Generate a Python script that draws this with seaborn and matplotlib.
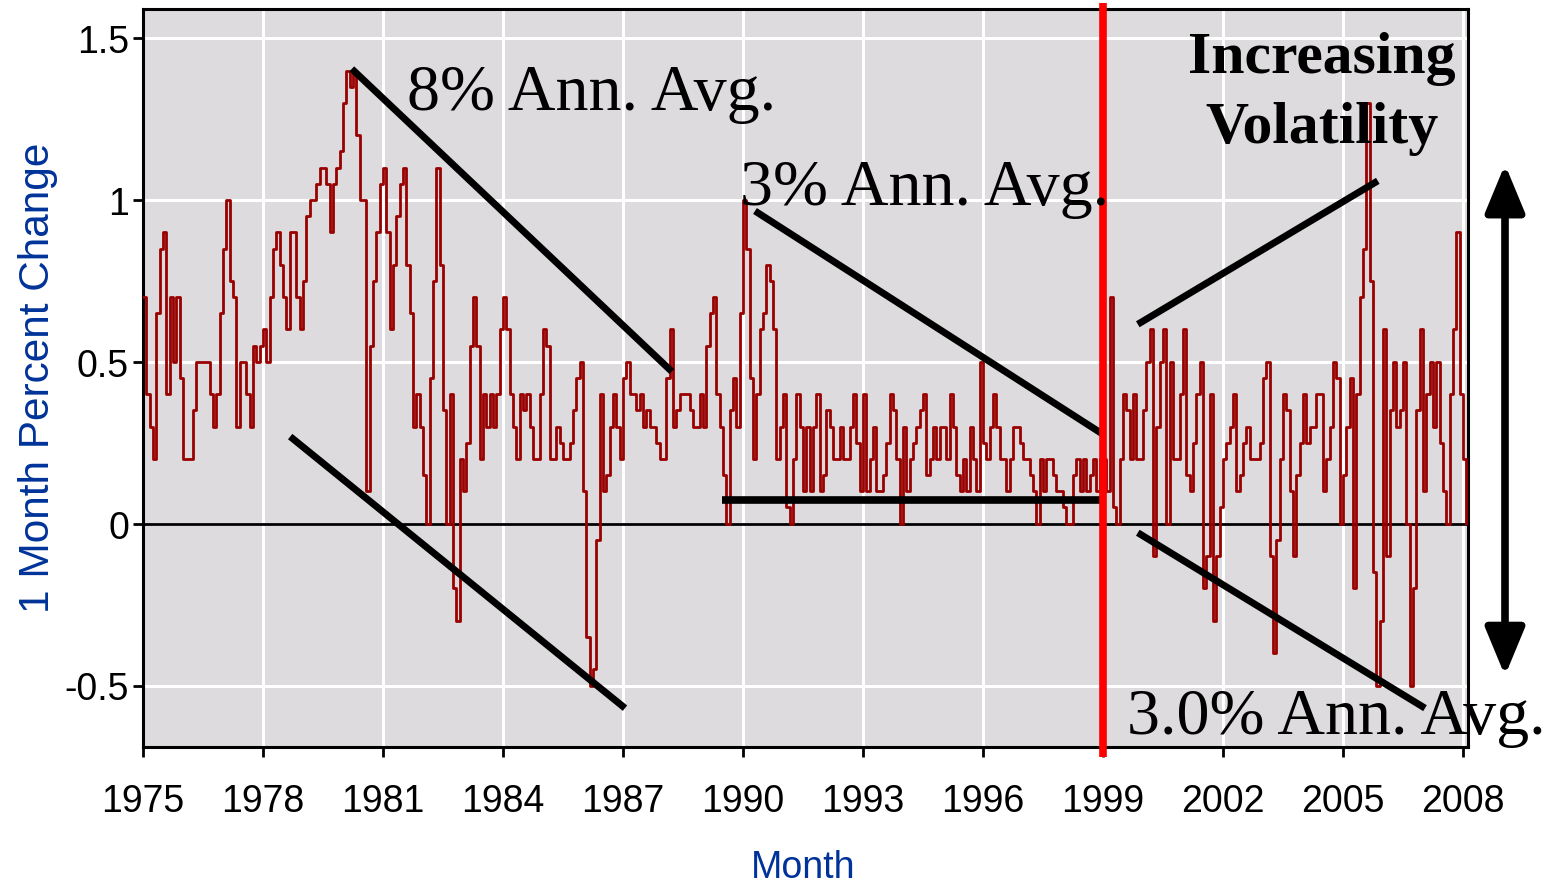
import pandas as pd
import matplotlib
matplotlib.use('Agg')
import matplotlib.pyplot as plt
from matplotlib.ticker import FuncFormatter
import seaborn as sns

# monthly percent change (Jan 1975 .. Feb 2008)
y1975 = [0.7, 0.4, 0.3, 0.2, 0.65, 0.85, 0.9, 0.4, 0.7, 0.5, 0.7, 0.45]
y1976 = [0.2, 0.2, 0.2, 0.35, 0.5, 0.5, 0.5, 0.5, 0.4, 0.3, 0.4, 0.65]
y1977 = [0.85, 1.0, 0.75, 0.7, 0.3, 0.5, 0.5, 0.4, 0.3, 0.55, 0.5, 0.55]
y1978 = [0.6, 0.5, 0.7, 0.85, 0.9, 0.8, 0.7, 0.6, 0.9, 0.9, 0.7, 0.6]
y1979 = [0.75, 0.95, 1.0, 1.0, 1.05, 1.1, 1.1, 1.05, 0.9, 1.05, 1.1, 1.15]
y1980 = [1.3, 1.4, 1.35, 1.4, 1.2, 1.0, 1.0, 0.1, 0.55, 0.75, 0.9, 1.05]
y1981 = [1.1, 0.9, 0.6, 0.8, 0.95, 1.05, 1.1, 0.8, 0.65, 0.3, 0.4, 0.3]
y1982 = [0.15, 0.0, 0.45, 0.75, 1.1, 0.8, 0.35, 0.0, 0.4, -0.2, -0.3, 0.2]
y1983 = [0.1, 0.25, 0.55, 0.7, 0.55, 0.2, 0.4, 0.3, 0.4, 0.3, 0.4, 0.6]
y1984 = [0.7, 0.6, 0.4, 0.3, 0.2, 0.4, 0.35, 0.4, 0.3, 0.2, 0.2, 0.4]
y1985 = [0.6, 0.55, 0.2, 0.2, 0.3, 0.25, 0.2, 0.2, 0.25, 0.35, 0.45, 0.5]
y1986 = [0.1, -0.35, -0.5, -0.45, -0.05, 0.4, 0.1, 0.15, 0.3, 0.4, 0.3, 0.2]
y1987 = [0.45, 0.5, 0.4, 0.4, 0.35, 0.4, 0.3, 0.35, 0.3, 0.3, 0.25, 0.2]
y1988 = [0.2, 0.45, 0.6, 0.3, 0.35, 0.4, 0.4, 0.4, 0.35, 0.3, 0.3, 0.4]
y1989 = [0.3, 0.55, 0.65, 0.7, 0.4, 0.3, 0.15, 0.0, 0.35, 0.45, 0.3, 0.65]
y1990 = [1.0, 0.85, 0.45, 0.2, 0.4, 0.6, 0.65, 0.8, 0.75, 0.6, 0.2, 0.3]
y1991 = [0.4, 0.05, 0.0, 0.2, 0.4, 0.3, 0.1, 0.3, 0.1, 0.3, 0.4, 0.1]
y1992 = [0.15, 0.35, 0.3, 0.2, 0.2, 0.3, 0.2, 0.2, 0.3, 0.4, 0.25, 0.1]
y1993 = [0.4, 0.1, 0.2, 0.3, 0.1, 0.1, 0.15, 0.25, 0.4, 0.35, 0.2, 0.0]
y1994 = [0.3, 0.1, 0.2, 0.25, 0.3, 0.35, 0.4, 0.15, 0.2, 0.3, 0.2, 0.3]
y1995 = [0.3, 0.2, 0.4, 0.3, 0.15, 0.1, 0.2, 0.1, 0.3, 0.2, 0.1, 0.5]
y1996 = [0.25, 0.2, 0.3, 0.4, 0.3, 0.2, 0.2, 0.1, 0.2, 0.3, 0.3, 0.25]
y1997 = [0.2, 0.2, 0.15, 0.1, 0.0, 0.2, 0.1, 0.2, 0.2, 0.15, 0.1, 0.1]
y1998 = [0.05, 0.0, 0.0, 0.15, 0.2, 0.1, 0.2, 0.1, 0.15, 0.2, 0.1, 0.2]
y1999 = [0.2, 0.1, 0.7, 0.05, 0.0, 0.2, 0.4, 0.35, 0.2, 0.4, 0.2, 0.2]
y2000 = [0.35, 0.5, 0.6, -0.1, 0.3, 0.5, 0.6, 0.0, 0.5, 0.2, 0.2, 0.4]
y2001 = [0.6, 0.15, 0.1, 0.25, 0.4, 0.5, -0.2, -0.1, 0.4, -0.3, -0.1, 0.05]
y2002 = [0.2, 0.25, 0.3, 0.4, 0.1, 0.15, 0.25, 0.3, 0.2, 0.2, 0.2, 0.25]
y2003 = [0.45, 0.5, -0.1, -0.4, -0.05, 0.2, 0.4, 0.35, 0.1, -0.1, 0.15, 0.25]
y2004 = [0.4, 0.25, 0.3, 0.3, 0.4, 0.4, 0.1, 0.2, 0.3, 0.5, 0.45, 0.0]
y2005 = [0.15, 0.3, 0.45, -0.2, 0.4, 0.7, 0.85, 1.3, 0.75, -0.15, -0.5, -0.3]
y2006 = [0.6, -0.1, 0.35, 0.5, 0.3, 0.35, 0.5, 0.0, -0.5, -0.2, 0.35, 0.6]
y2007 = [0.1, 0.4, 0.5, 0.3, 0.5, 0.25, 0.1, 0.0, 0.4, 0.6, 0.9, 0.4]
y2008 = [0.2, 0.0]

x_ticks = list(range(1975, 2009, 3))
y_ticks = [-0.5, 0, 0.5, 1, 1.5]

# hand-drawn trend lines on the chart: (start, end) in (year, % change)
trend_lines = [
    ((1980.22, 1.405), (1988.22, 0.47)),
    ((1978.68, 0.269), (1987.05, -0.57)),
    ((1990.3, 0.966), (1999.0, 0.276)),
    ((1999.87, 0.616), (2005.87, 1.059)),
    ((1999.87, -0.028), (2007.05, -0.57)),
]
flat_line = ((1989.47, 0.074), (1999.0, 0.074))
split_year = 1999.0
split_span = (-0.72, 1.61)
arrow_x, arrow_top, arrow_bottom = 2009.05, 1.11, -0.47

yearly = [y1975, y1976, y1977, y1978, y1979, y1980, y1981, y1982, y1983,
          y1984, y1985, y1986, y1987, y1988, y1989, y1990, y1991, y1992,
          y1993, y1994, y1995, y1996, y1997, y1998, y1999, y2000, y2001,
          y2002, y2003, y2004, y2005, y2006, y2007, y2008]
values = [v for yr in yearly for v in yr]
df = pd.DataFrame({'Month': [1975 + i / 12 for i in range(len(values))],
                   'Change': values})

sns.set_style('darkgrid', {'axes.facecolor': '#dddbde', 'grid.color': 'white',
                           'axes.edgecolor': 'black', 'text.color': 'black'})
plt.rcParams['font.family'] = ['Liberation Sans', 'DejaVu Sans']

fig = plt.figure(figsize=(15.5, 8.87), dpi=100)
ax = fig.add_axes([143 / 1550, 1 - 748 / 887, 1325 / 1550, 738 / 887])

ax.axhline(0, color='black', lw=2, zorder=2)
sns.lineplot(data=df, x='Month', y='Change', color='#990000', lw=2.0,
             drawstyle='steps-post', estimator=None, ax=ax, zorder=3)

for (x0, y0), (x1, y1) in trend_lines:
    ax.plot([x0, x1], [y0, y1], color='black', lw=5, solid_capstyle='butt', zorder=4)
ax.plot([flat_line[0][0], flat_line[1][0]], [flat_line[0][1], flat_line[1][1]],
        color='black', lw=5.5, solid_capstyle='butt', zorder=4)
ax.plot([split_year, split_year], split_span, color='#ff0000', lw=5.5,
        solid_capstyle='butt', clip_on=False, zorder=5)

ax.annotate('', xy=(arrow_x, arrow_bottom), xytext=(arrow_x, arrow_top),
            arrowprops=dict(arrowstyle='<|-|>,head_length=1.45,head_width=0.6',
                            lw=5.5, color='black', mutation_scale=20,
                            shrinkA=0, shrinkB=0),
            annotation_clip=False)

serif = ['Liberation Serif', 'DejaVu Serif']
ax.text(1981.6, 1.282, '8% Ann. Avg.', fontsize=47.5, family=serif,
        color='black', va='baseline', zorder=6)
ax.text(1989.93, 0.988, '3% Ann. Avg.', fontsize=47.5, family=serif,
        color='black', va='baseline', zorder=6)
ax.text(1999.6, -0.647, '3.0% Ann. Avg.', fontsize=47.5, family=serif,
        color='black', va='baseline', zorder=6)
ax.text(2004.48, 1.396, 'Increasing', fontsize=43, family=serif, weight='bold',
        color='black', ha='center', va='baseline', zorder=6)
ax.text(2004.48, 1.18, 'Volatility', fontsize=43, family=serif, weight='bold',
        color='black', ha='center', va='baseline', zorder=6)

ax.set_xlim(1975, 2008.125)
ax.set_ylim(-0.69, 1.59)
ax.set_xticks(x_ticks)
ax.set_yticks(y_ticks)
ax.yaxis.set_major_formatter(FuncFormatter(lambda v, p: '%g' % v))
ax.grid(True, color='white', lw=2.2)
ax.tick_params(axis='both', labelsize=27, length=7, width=2, color='black',
               labelcolor='black', direction='out', left=True, bottom=True)
ax.tick_params(axis='x', pad=19)
ax.tick_params(axis='y', pad=3)
for s in ax.spines.values():
    s.set_color('black')
    s.set_linewidth(2.2)

ax.set_xlabel('Month', fontsize=27, color='#003399', va='center')
ax.set_ylabel('1 Month Percent Change', fontsize=30.5, color='#003399', va='center')
ax.xaxis.set_label_coords(0.498, -0.163)
ax.yaxis.set_label_coords(-0.0795, 0.501)

fig.savefig('out.png', dpi=100)
